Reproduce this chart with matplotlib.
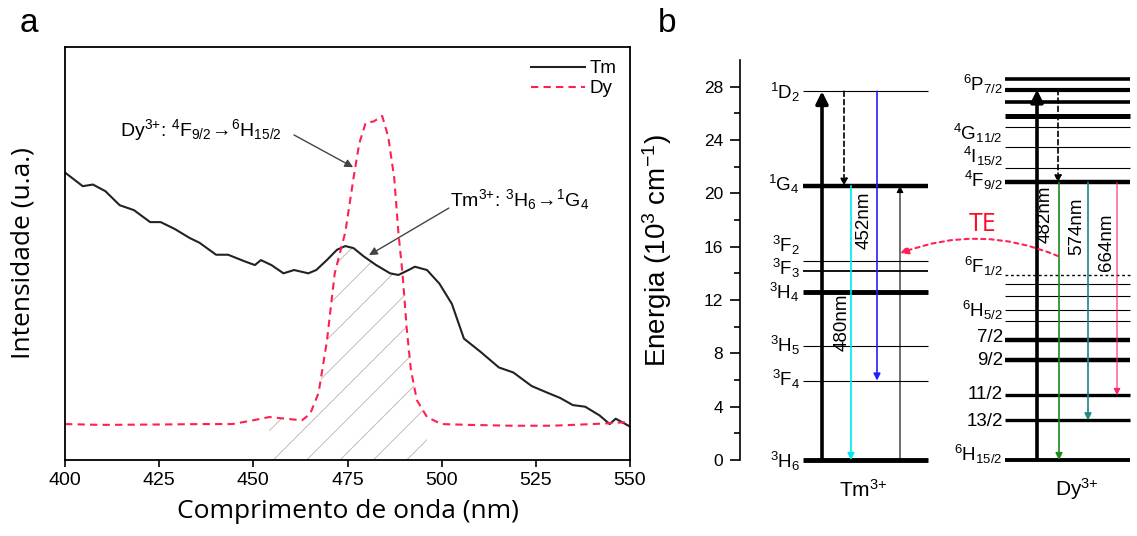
import numpy as np
import matplotlib
matplotlib.use("Agg")
import matplotlib.pyplot as plt
from matplotlib.patches import Polygon

plt.rcParams['font.family'] = 'Liberation Sans'
plt.rcParams['mathtext.fontset'] = 'custom'
plt.rcParams['mathtext.rm'] = 'Liberation Sans'
plt.rcParams['mathtext.it'] = 'Liberation Sans:italic'
plt.rcParams['mathtext.bf'] = 'Liberation Sans:bold'
plt.rcParams['hatch.linewidth'] = 0.7

# ---- panel a: emission spectra (a.u.) ----
wl_tm = [400, 404.7, 407.4, 410.7, 414.5, 418.3, 422.6, 425.4, 429.2, 433, 435.7, 440.1,
         443.3, 447.7, 450.4, 452, 454.8, 458, 460.8, 464.6, 466.7, 469.5, 472.2, 474.4,
         476.6, 479.3, 482.6, 486.3, 488.5, 491.2, 492.9, 496.1, 499.4, 502.7, 505.9,
         510.3, 515.2, 519, 523.9, 528.3, 531.5, 534.8, 538.1, 541.9, 544.6, 546.2, 550]
int_tm = [0.696, 0.663, 0.667, 0.651, 0.617, 0.605, 0.576, 0.576, 0.559, 0.538, 0.526, 0.497,
          0.497, 0.481, 0.472, 0.484, 0.472, 0.452, 0.460, 0.452, 0.460, 0.484, 0.509, 0.518,
          0.513, 0.493, 0.472, 0.452, 0.448, 0.460, 0.468, 0.460, 0.427, 0.378, 0.294,
          0.262, 0.224, 0.212, 0.179, 0.162, 0.150, 0.133, 0.129, 0.108, 0.087, 0.100, 0.081]

wl_dy = [400, 409.6, 425.9, 436.8, 444.4, 449.9, 454.2, 458.6, 462.9, 465.1, 467.3, 469.5,
         471.6, 474.4, 476.6, 478.1, 479.8, 482, 484.2, 485.8, 487.4, 488.5, 489.6, 490.7,
         491.8, 493.4, 496.1, 499.9, 507.6, 518.4, 529.3, 540.2, 550]
int_dy = [0.087, 0.085, 0.086, 0.087, 0.087, 0.096, 0.104, 0.100, 0.096, 0.112, 0.162, 0.286,
          0.452, 0.551, 0.683, 0.766, 0.816, 0.820, 0.833, 0.783, 0.683, 0.551, 0.452, 0.320,
          0.220, 0.145, 0.104, 0.087, 0.085, 0.083, 0.083, 0.087, 0.092]

# ---- panel b: energy levels (10^3 cm^-1) ----
tm_levels = [27.65, 20.57, 14.95, 14.15, 12.57, 8.52, 5.96, 0.0]
tm_lw = [0.8, 3.2, 0.8, 1.3, 3.5, 0.8, 0.8, 3.5]
tm_names = [r'$\mathregular{^1D_2}$', r'$\mathregular{^1G_4}$', r'$\mathregular{^3F_2}$',
            r'$\mathregular{^3F_3}$', r'$\mathregular{^3H_4}$', r'$\mathregular{^3H_5}$',
            r'$\mathregular{^3F_4}$', r'$\mathregular{^3H_6}$']
tm_name_y = [27.6, 20.7, 16.1, 14.35, 12.6, 8.6, 6.03, -0.1]

dy_levels = [28.54, 27.77, 26.84, 25.77, 25.0, 23.5, 21.93, 20.82, 13.85,
             13.21, 12.32, 11.29, 10.44, 9.03, 7.47, 4.86, 2.98, 0.0]
dy_lw = [2.6, 3.0, 2.6, 3.6, 0.8, 0.8, 0.8, 3.2, 1.0,
         0.8, 0.8, 0.8, 0.8, 3.2, 3.2, 2.4, 2.4, 2.8]
dy_ls = ['-'] * 8 + [(0, (2, 2))] + ['-'] * 9
dy_names = [r'$\mathregular{^6P_{7/2}}$', r'$\mathregular{^4G_{11/2}}$', r'$\mathregular{^4I_{15/2}}$',
            r'$\mathregular{^4F_{9/2}}$', r'$\mathregular{^6F_{1/2}}$', r'$\mathregular{^6H_{5/2}}$',
            '7/2', '9/2', '11/2', '13/2', r'$\mathregular{^6H_{15/2}}$']
dy_name_y = [28.2, 24.5, 22.75, 21.0, 14.5, 11.2, 9.2, 7.5, 4.9, 2.9, 0.4]

# transitions: (start, end, colour)
tm_trans = [(0.0, 27.65, 'k'), (27.65, 20.57, 'k'), (20.57, 0.0, '#00e8f0'),
            (27.65, 5.96, '#2020ff'), (0.0, 20.57, 'k')]
tm_trans_x = [82, 104, 111, 137, 160]
dy_trans = [(0.0, 27.77, 'k'), (27.77, 20.82, 'k'), (20.82, 0.0, '#1a8a1a'),
            (20.82, 2.98, '#1f8585'), (20.82, 4.86, '#ff2070')]
dy_trans_x = [297, 318, 319, 348, 377]

nm_labels = ['480nm', '452nm', '482nm', '574nm', '664nm']
nm_pos = [(102, 10.3), (124, 17.95), (305, 18.4), (337, 17.5), (367, 16.3)]

fig = plt.figure(figsize=(11.37, 5.36), dpi=100)

# ================= panel a =================
ax1 = fig.add_axes([0.0572, 0.1418, 0.4969, 0.7705])
ax1.plot(wl_tm, int_tm, color='#222222', lw=1.5, label='Tm')
ax1.plot(wl_dy, int_dy, color='#ff1f50', lw=1.5, ls=(0, (3.5, 2.5)), label='Dy')

wl_dy_arr = np.array(wl_dy)
int_dy_arr = np.array(int_dy)
mask = (wl_dy_arr >= 454) & (wl_dy_arr <= 497)
hatch = ax1.fill_between(wl_dy_arr[mask], 0, int_dy_arr[mask], facecolor='none',
                         edgecolor='#bdbdbd', hatch='/', lw=0)
clip = Polygon(list(zip(wl_tm, int_tm)) + [(550, 0), (400, 0)], closed=True,
               transform=ax1.transData)
hatch.set_clip_path(clip)

ax1.set_xlim(400, 550)
ax1.set_ylim(0, 1)
ax1.set_xticks(np.arange(400, 551, 25))
ax1.set_yticks([])
ax1.tick_params(axis='x', direction='out', length=5, width=1.2, labelsize=14, pad=4)
for s in ax1.spines.values():
    s.set_linewidth(1.3)
ax1.set_xlabel('Comprimento de onda (nm)', family='Open Sans', fontsize=19)
ax1.set_ylabel('Intensidade (u.a.)', family='Open Sans', fontsize=19)
ax1.xaxis.set_label_coords(0.5, -0.095)
ax1.yaxis.set_label_coords(-0.053, 0.5)

ax1.legend(loc='upper right', frameon=False, fontsize=13.5, handlelength=2.9,
           handletextpad=0.25, labelspacing=0.15, borderaxespad=0.3)

arrow_a = dict(arrowstyle='-|>', color='#444444', lw=1.0, mutation_scale=12,
               shrinkA=0, shrinkB=0)
ax1.text(414.6, 0.80, r'Dy$^{3{+}}$: $^4$F$_{9/2}$$\!\rightarrow\!$$^6$H$_{15/2}$',
         fontsize=14, va='center', ha='left')
ax1.annotate('', xy=(476.5, 0.709), xytext=(460.8, 0.787), arrowprops=arrow_a)
ax1.text(502.2, 0.63, r'Tm$^{3{+}}$: $^3$H$_6$$\!\rightarrow\!$$^1$G$_4$',
         fontsize=14, va='center', ha='left')
ax1.annotate('', xy=(480.7, 0.496), xytext=(501.9, 0.610), arrowprops=arrow_a)

# ================= panel b =================
ax2 = fig.add_axes([740 / 1137, 0.0421, 397 / 1137, 0.846])
ax2.set_xlim(0, 397)
ax2.set_ylim(-4, 30)
for side in ['top', 'right', 'bottom']:
    ax2.spines[side].set_visible(False)
ax2.spines['left'].set_bounds(0, 30)
ax2.spines['left'].set_linewidth(1.2)
ax2.set_xticks([])
ax2.set_yticks(np.arange(0, 29, 4))
ax2.set_yticks([2, 6, 10, 14, 18, 22, 26], minor=True)
ax2.tick_params(axis='y', which='major', direction='out', length=7, width=1.2,
                labelsize=12.5, pad=5)
ax2.tick_params(axis='y', which='minor', direction='out', length=4, width=1.2)
ax2.set_ylabel(r'Energia (10$^3$ cm$^{-1}$)', fontsize=20)
ax2.yaxis.set_label_coords(-0.165, 0.58)

ax2.hlines(tm_levels, 63, 188, colors='k', lw=tm_lw)
for e, w, ls in zip(dy_levels, dy_lw, dy_ls):
    ax2.hlines(e, 265, 390, colors='k', lw=w, linestyles=[ls])

for name, y in zip(tm_names, tm_name_y):
    ax2.text(60, y, name, fontsize=13.5, ha='right', va='center')
for name, y in zip(dy_names, dy_name_y):
    ax2.text(263, y, name, fontsize=13.5, ha='right', va='center')

styles = [dict(lw=2.6, mutation_scale=18), dict(lw=1.2, ls=(0, (3, 2)), mutation_scale=10),
          dict(lw=1.2, mutation_scale=10), dict(lw=1.2, mutation_scale=10),
          dict(lw=0.8, mutation_scale=10)]
for trans, xs in [(tm_trans, tm_trans_x), (dy_trans, dy_trans_x)]:
    for (e0, e1, c), x, st in zip(trans, xs, styles):
        ax2.annotate('', xy=(x, e1), xytext=(x, e0),
                     arrowprops=dict(arrowstyle='-|>', color=c, shrinkA=0, shrinkB=0, **st))

for lab, (x, y) in zip(nm_labels, nm_pos):
    ax2.text(x, y, lab, fontsize=13.5, rotation=90, ha='center', va='center')

# energy transfer Dy -> Tm
ax2.annotate('', xy=(160, 15.5), xytext=(318, 15.3),
             arrowprops=dict(arrowstyle='-|>', color='#ff2255', lw=1.5, ls=(0, (2, 2)),
                             mutation_scale=12, connectionstyle='arc3,rad=0.2',
                             shrinkA=0, shrinkB=0))
ax2.text(243, 17.7, 'TE', family='Open Sans', fontsize=18, color='#ff0a2a',
         ha='center', va='center')

ax2.text(123, -2.2, r'Tm$^{3{+}}$', fontsize=15, ha='center', va='center')
ax2.text(337, -2.2, r'Dy$^{3{+}}$', fontsize=15, ha='center', va='center')

fig.text(0.0176, 0.940, 'a', fontsize=24, va='baseline')
fig.text(0.5787, 0.940, 'b', fontsize=24, va='baseline')

fig.savefig('out.png', dpi=100, facecolor='white')
